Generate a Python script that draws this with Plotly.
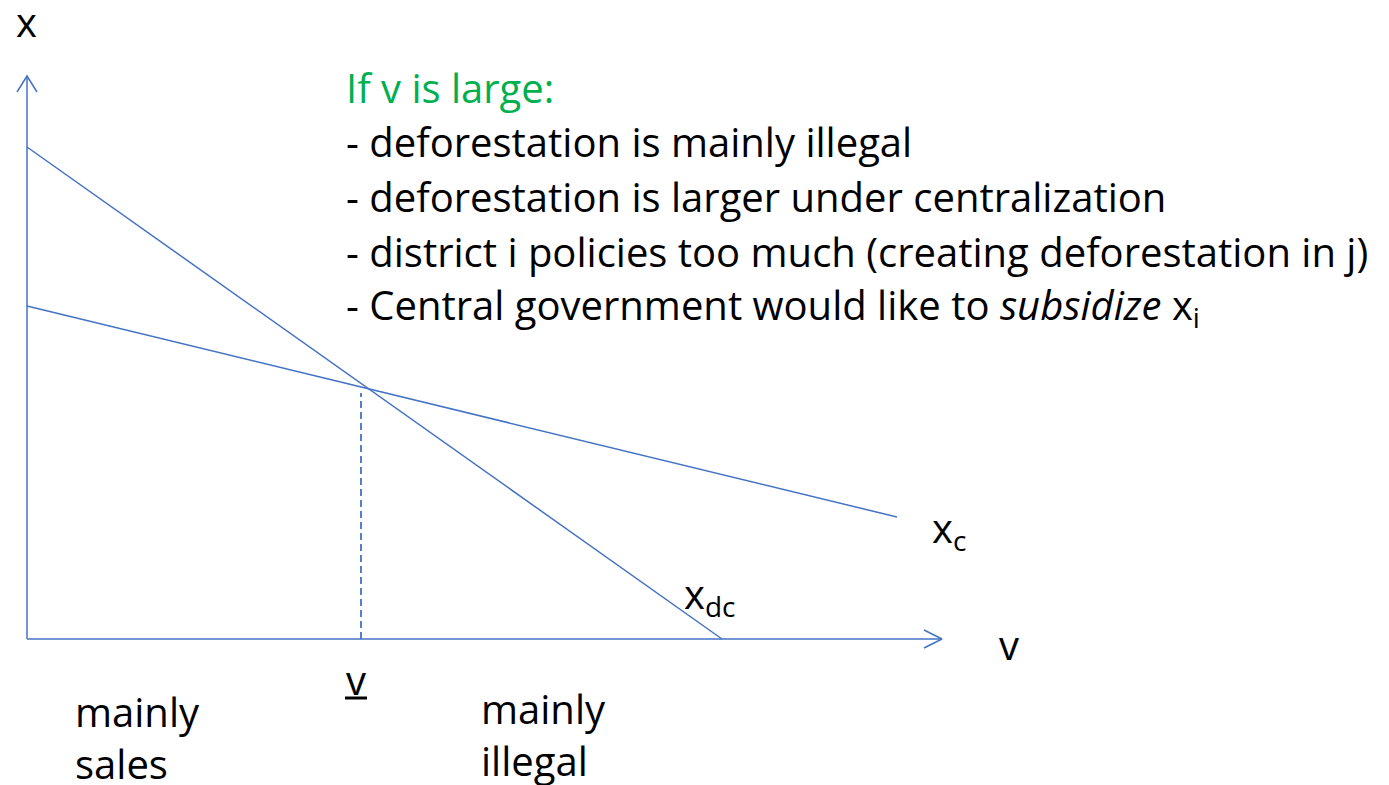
import plotly.graph_objects as go

# ---- data (diagram units: origin at the axes' corner) ----
v_axis_len = 915
x_axis_len = 563
xdc_v = [0, 695]
xdc_x = [492, 0]
xc_v = [0, 870]
xc_x = [333, 122]
v_threshold = 334

title_text = "If v is large:"
bullets = [
    "- deforestation is mainly illegal",
    "- deforestation is larger under centralization",
    "- district i policies too much (creating deforestation in j)",
    "- Central government would like to <i>subsidize</i> x<sub>i</sub>",
]

BLUE = "#4472C4"
GREEN = "#00B050"
FONT = "Open Sans, sans-serif"
FS = 40

# height of the upper line at the threshold
s2 = (xc_x[1] - xc_x[0]) / (xc_v[1] - xc_v[0])
x_at_thr = xc_x[0] + s2 * v_threshold

fig = go.Figure()
line = dict(color=BLUE, width=1.5)

# axes
fig.add_trace(go.Scatter(x=[0, v_axis_len], y=[0, 0], mode="lines", line=line))
fig.add_trace(go.Scatter(x=[0, 0], y=[0, x_axis_len], mode="lines", line=line))
# open arrowheads
fig.add_trace(go.Scatter(x=[v_axis_len - 18, v_axis_len, v_axis_len - 18], y=[9, 0, -9],
                         mode="lines", line=line))
fig.add_trace(go.Scatter(x=[-10, 0, 10], y=[x_axis_len - 16, x_axis_len, x_axis_len - 16],
                         mode="lines", line=line))
# curves
fig.add_trace(go.Scatter(x=xdc_v, y=xdc_x, mode="lines", line=line))
fig.add_trace(go.Scatter(x=xc_v, y=xc_x, mode="lines", line=line))
# dashed drop line
fig.add_trace(go.Scatter(x=[v_threshold, v_threshold], y=[0, x_at_thr - 6], mode="lines",
                         line=dict(color=BLUE, width=1.8, dash="7px,4px")))

def txt(x, y, t, size=FS, color="black", xanchor="left", yanchor="middle"):
    fig.add_annotation(x=x, y=y, text=t, showarrow=False, xanchor=xanchor,
                       yanchor=yanchor, font=dict(size=size, color=color, family=FONT),
                       align="left")

txt(-13, 618, "x")
txt(970, -5, "v")
txt(903, 110, "x<sub>c</sub>")
txt(655, 44, "x<sub>dc</sub>")
txt(v_threshold - 5, -40, "v", xanchor="center")
# underline of the threshold label
fig.add_trace(go.Scatter(x=[v_threshold - 16, v_threshold + 6], y=[-59, -59], mode="lines",
                         line=dict(color="black", width=3)))
txt(46, -43, "mainly<br>sales", yanchor="top")
txt(452, -40, "mainly<br>illegal", yanchor="top")

txt(317, 552, title_text, color=GREEN)
for i, b in enumerate(bullets):
    txt(317, 498 - i * 55, b)

fig.update_layout(
    width=1389, height=785,
    margin=dict(l=0, r=0, t=0, b=0),
    paper_bgcolor="white", plot_bgcolor="white",
    showlegend=False,
    xaxis=dict(range=[-19, 1370], visible=False, fixedrange=True),
    yaxis=dict(range=[-154, 631], visible=False, fixedrange=True),
)
fig.write_html("out.html")
